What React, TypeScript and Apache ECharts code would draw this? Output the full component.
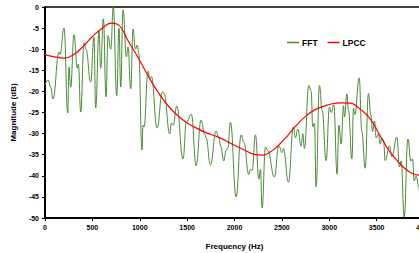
import React, { useEffect, useRef } from "react";
import * as echarts from "echarts";

const xTicks = [0, 500, 1000, 1500, 2000, 2500, 3000, 3500, 4000];

const fftFreq = [0, 32, 60, 84, 148, 158, 201, 240, 253, 271, 306, 341, 352, 377, 412, 433, 482, 517, 535, 570, 588, 616, 644, 665, 694, 721, 757, 781, 799, 824, 859, 876, 905, 929, 954, 975, 989, 1024, 1035, 1045, 1088, 1105, 1123, 1183, 1239, 1257, 1317, 1334, 1352, 1391, 1457, 1492, 1545, 1595, 1647, 1686, 1700, 1746, 1806, 1834, 1855, 1887, 1911, 1929, 1957, 2017, 2070, 2098, 2151, 2169, 2186, 2221, 2257, 2274, 2291, 2327, 2351, 2421, 2467, 2503, 2516, 2569, 2622, 2643, 2668, 2703, 2721, 2738, 2784, 2809, 2826, 2844, 2861, 2897, 2925, 2967, 3002, 3020, 3048, 3083, 3101, 3126, 3150, 3161, 3186, 3203, 3239, 3256, 3270, 3316, 3344, 3379, 3414, 3439, 3457, 3478, 3495, 3520, 3537, 3555, 3573, 3590, 3636, 3661, 3714, 3741, 3759, 3791, 3830, 3862, 3879, 3896, 3918, 3943, 3970, 4000];
const fftMag = [-18.4, -17.3, -19, -21.8, -10.7, -11.3, -5.0, -25.1, -14.2, -19, -6.6, -14.5, -13.5, -24.9, -8.5, -10, -17.8, -7.1, -23.9, -5.7, -14.5, -2.8, -21.3, -6.8, -10, 0, -21, -5, -19, -0.7, -11.8, -9.5, -19.4, -5.2, -10, -9, -11, -33.9, -28, -28.4, -15.2, -17, -16.5, -28.7, -20.1, -20.5, -30.1, -27.5, -28, -23.5, -36, -27.3, -25.4, -37.6, -26.8, -30.1, -31, -37.4, -29.4, -31, -33, -36.5, -34, -33.5, -27.3, -45, -30.3, -32, -39.7, -38.5, -38.7, -30.3, -40.8, -38.5, -47.6, -33.2, -34, -40.3, -32.9, -34.5, -33.5, -41.5, -28.4, -31, -28.9, -33, -30, -33.5, -18.6, -20, -28.4, -27.5, -42.6, -18.6, -24.5, -36.4, -23.7, -25, -23.2, -39.6, -28, -32.5, -23.4, -26, -20.6, -24.5, -36, -24, -25.5, -16.8, -29.5, -38.2, -20.5, -25.5, -29.5, -27, -31, -30, -32.5, -31, -31.5, -36.4, -32.9, -35.5, -30.8, -37.9, -36.5, -49.8, -31.3, -36.5, -36, -41.2, -40, -42.5, -49, -44];

const lpccFreq = [0, 100, 200, 300, 400, 500, 600, 700, 780, 876, 981, 1088, 1193, 1299, 1405, 1500, 1573, 1693, 1834, 1975, 2116, 2221, 2300, 2380, 2440, 2545, 2650, 2756, 2861, 3002, 3126, 3221, 3326, 3432, 3537, 3643, 3749, 3855, 3950, 4000];
const lpccMag = [-11.3, -11.8, -12.1, -11.3, -9.4, -7, -5.1, -3.8, -4.3, -8, -11.9, -16.3, -20.2, -23.4, -25.8, -27.5, -28.4, -29.7, -30.9, -32.5, -34, -35, -35.1, -34.3, -33.3, -30.9, -28.1, -25.8, -24.2, -23.1, -22.7, -22.8, -24.2, -26.5, -30.5, -34.4, -37.2, -39.2, -39.9, -40.2];

const FONT = "'Liberation Sans', Arial, sans-serif";

export default function App() {
  const ref = useRef<HTMLDivElement>(null);
  useEffect(() => {
    if (!ref.current) return;
    const chart = echarts.init(ref.current, undefined, { renderer: "svg" });
    chart.setOption({
      animation: false,
      backgroundColor: "#fff",
      grid: {
        left: 45,
        top: 7,
        right: -5,
        bottom: 35,
        outerBoundsMode: "none",
        containLabel: false,
        show: true,
        borderColor: "#000",
        borderWidth: 1.5,
      },
      legend: {
        left: 282,
        top: 33,
        icon: "rect",
        itemWidth: 12,
        itemHeight: 1.5,
        itemGap: 10,
        textStyle: { fontFamily: FONT, fontWeight: "bold", fontSize: 8.5, color: "#000", padding: [0, 0, 0, -2] },
        data: ["FFT", "LPCC"],
      },
      xAxis: {
        type: "value",
        min: 0,
        max: 4000,
        interval: 500,
        name: "Frequency (Hz)",
        nameLocation: "middle",
        nameGap: 24,
        nameTextStyle: { fontFamily: FONT, fontWeight: "bold", fontSize: 8, color: "#000" },
        axisLine: { show: true, onZero: false, lineStyle: { color: "#000", width: 2 } },
        axisTick: { show: true, length: 3, lineStyle: { color: "#000", width: 1 } },
        axisLabel: {
          fontFamily: FONT,
          fontWeight: "bold",
          fontSize: 7,
          color: "#000",
          margin: 6,
          formatter: (v: number) => (xTicks.includes(v) ? String(v) : ""),
        },
        splitLine: { show: false },
      },
      yAxis: {
        type: "value",
        min: -50,
        max: 0,
        interval: 5,
        name: "Magnitude (dB)",
        nameLocation: "middle",
        nameGap: 24,
        nameTextStyle: { fontFamily: FONT, fontWeight: "bold", fontSize: 8, color: "#000", verticalAlign: "middle" },
        axisLine: { show: true, onZero: false, lineStyle: { color: "#000", width: 2 } },
        axisTick: { show: true, length: 3, lineStyle: { color: "#000", width: 1 } },
        axisLabel: { fontFamily: FONT, fontWeight: "bold", fontSize: 7, color: "#000", margin: 6 },
        splitLine: { show: false },
      },
      series: [
        {
          name: "FFT",
          type: "line",
          data: fftFreq.map((f, i) => [f, fftMag[i]]),
          symbol: "none",
          smooth: 0.45,
          smoothMonotone: "x",
          lineStyle: { color: "#4a8a35", width: 1 },
          itemStyle: { color: "#4a8a35" },
          clip: true,
        },
        {
          name: "LPCC",
          type: "line",
          data: lpccFreq.map((f, i) => [f, lpccMag[i]]),
          symbol: "none",
          smooth: 0.5,
          lineStyle: { color: "#ff0000", width: 1.2 },
          itemStyle: { color: "#ff0000" },
          clip: true,
        },
      ],
    });
    return () => chart.dispose();
  }, []);
  return (
    <div
      ref={ref}
      style={{ position: "fixed", left: 0, top: 0, width: 419, height: 253, background: "#fff" }}
    />
  );
}
